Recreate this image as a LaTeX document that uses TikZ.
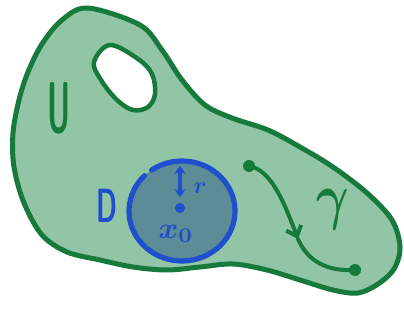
\documentclass[tikz,border=0pt]{standalone}
\usepackage{amsmath,amssymb,bm}
\usetikzlibrary{arrows.meta}
\definecolor{regionfill}{RGB}{146,196,166}
\definecolor{edgegreen}{RGB}{22,122,60}
\definecolor{discfill}{RGB}{92,140,150}
\definecolor{penblue}{RGB}{31,79,205}
\tikzset{
  greenpen/.style={draw=edgegreen, line width=5pt, line cap=round, line join=round},
  bluepen/.style={draw=penblue, line width=5.2pt, line cap=round},
  dotmark/.style={circle, fill=edgegreen, inner sep=0pt, minimum size=12pt},
  bluelabel/.style={text=penblue, inner sep=0pt},
}
\begin{document}
\begin{tikzpicture}[x=1pt,y=-1pt]
\useasboundingbox (0,0) rectangle (404,321);
% outer region U
\path[fill=regionfill, greenpen] plot[smooth cycle, tension=0.55] coordinates {
 (88,8) (140,25) (162,50) (182,80) (205,105) (232,118) (268,130) (300,147)
 (333,167) (367,193) (392,220) (400,247) (394,269) (378,284) (358,293)
 (333,290) (300,280) (267,270) (233,264) (200,267) (167,270) (133,267)
 (100,260) (67,252) (42,235) (24,203) (14,167) (13,133) (19,100) (28,72)
 (42,44) (62,20)};
% hole
\path[fill=white, greenpen, line width=4.5pt] plot[smooth cycle, tension=0.6] coordinates {
 (110,45) (138,59) (152,74) (155,94) (148,107) (133,110) (117,100) (101,80) (94,62)};
% label U
\node[text=edgegreen, inner sep=0pt, xscale=0.42, font=\sffamily\bfseries\fontsize{72}{72}\selectfont] (labelU) at (59,108) {U};
% disc D
\coordinate (x0) at (182,211);
\fill[discfill] (x0) ellipse[x radius=53, y radius=50];
\draw[bluepen] (x0) ++(-125:53 and 50) arc[start angle=-125, end angle=225, x radius=53, y radius=50];
\node[bluelabel, xscale=0.55, font=\sffamily\bfseries\fontsize{48}{48}\selectfont] (labelD) at (107,206) {D};
% center point and radius
\node[circle, fill=penblue, inner sep=0pt, minimum size=10pt] (center) at (180,208) {};
\coordinate (rtop) at (180,166);
\coordinate (rbot) at (180,197);
\draw[bluepen, line width=3.8pt, {Stealth[length=8pt,width=12pt]}-{Stealth[length=8pt,width=12pt]}] (rtop) -- (rbot);
\node[bluelabel, scale=2.4] (labelr) at (200,188) {$\bm{r}$};
\node[bluelabel, scale=3] (labelx) at (176,234) {$\bm{x_0}$};
% curve gamma
\node[dotmark] (gstart) at (249,166) {};
\node[dotmark] (gend) at (355,270) {};
\coordinate (gmid) at (298,239);
\draw[greenpen, line width=4pt, -{Straight Barb[length=9pt,width=16pt,line width=4pt]}]
  (gstart.center) .. controls (272,170) and (285,205) .. (gmid);
\draw[greenpen, line width=4pt] (gmid) .. controls (305,255) and (320,272) .. (gend.center);
\node[text=edgegreen, inner sep=0pt, xscale=5, yscale=6.3] (labelg) at (333,210) {$\bm{\gamma}$};
\end{tikzpicture}
\end{document}
